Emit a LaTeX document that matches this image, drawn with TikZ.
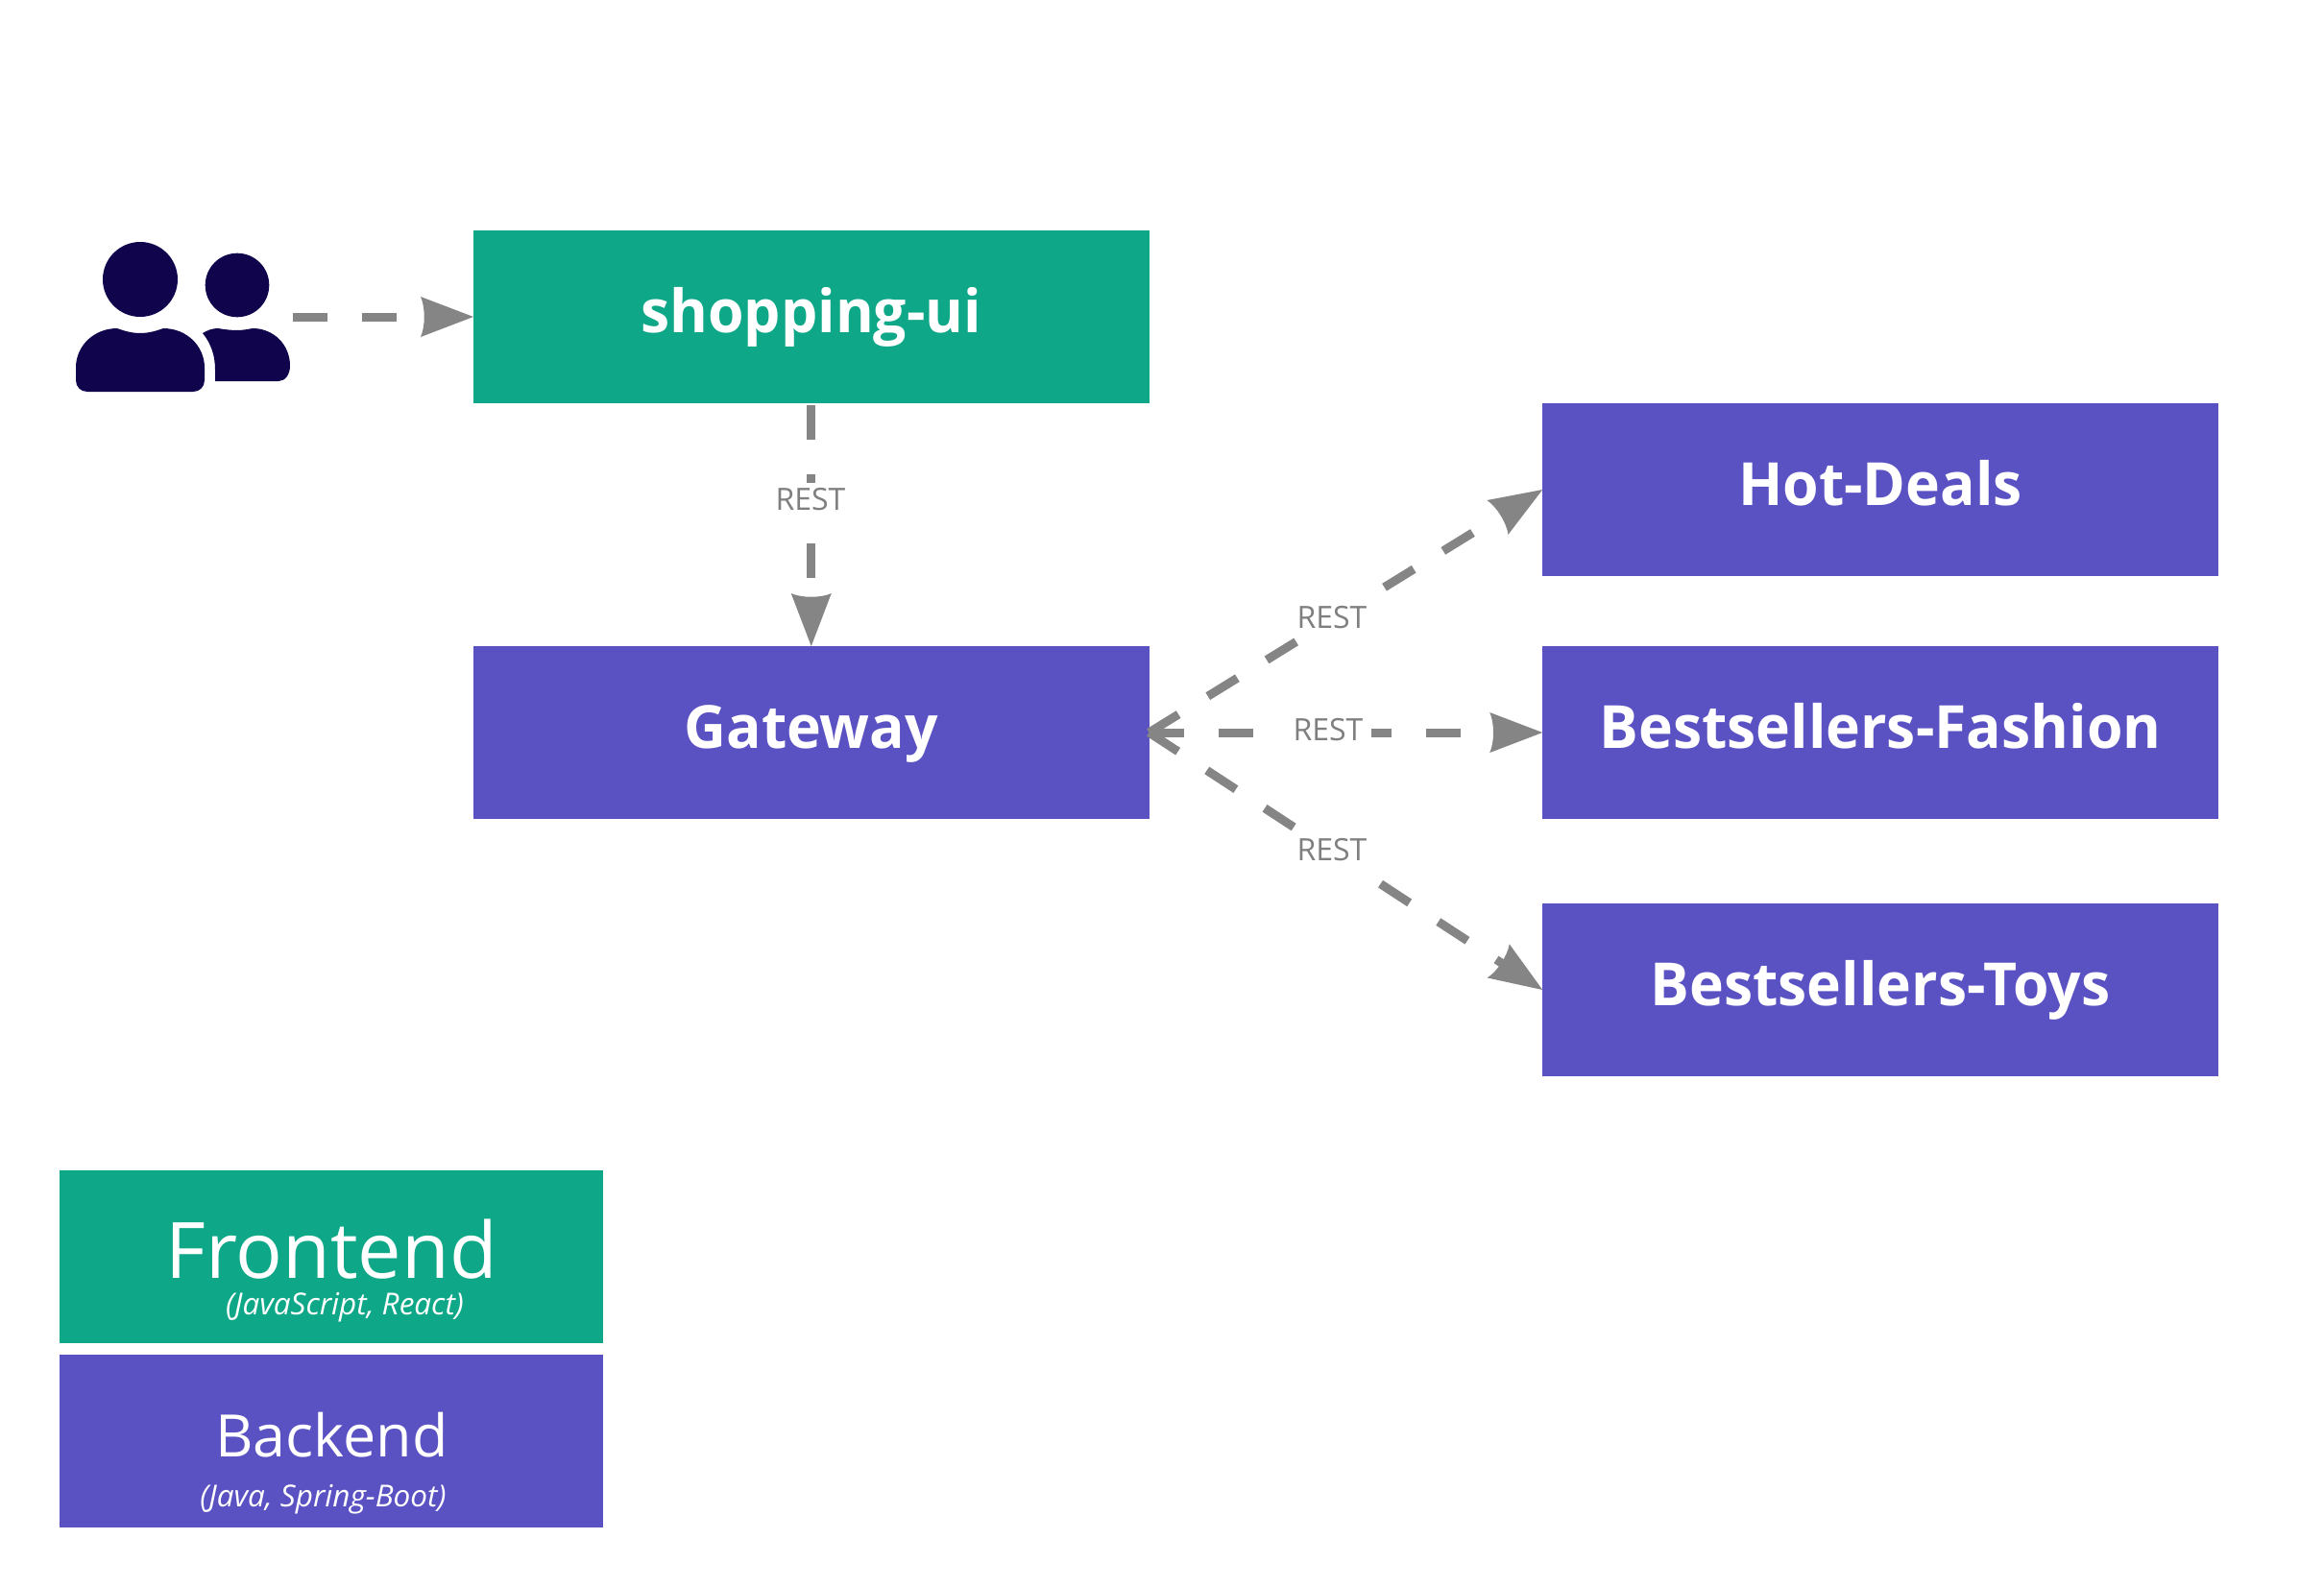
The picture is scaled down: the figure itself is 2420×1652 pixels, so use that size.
\documentclass[tikz,border=0pt]{standalone}
\usepackage{fontspec}
\setmainfont[BoldFeatures={FakeStretch=0.978,Kerning=Off}]{Open Sans}
\usetikzlibrary{arrows.meta}
\definecolor{front}{HTML}{0EA788}
\definecolor{back}{HTML}{5A51C3}
\definecolor{linegray}{HTML}{858585}
\definecolor{labelgray}{HTML}{7F7F7F}
\definecolor{iconblue}{HTML}{10054D}
\pgfdeclarearrow{
  name=HeadX,
  setup code={\pgfarrowssettipend{0pt}\pgfarrowssetlineend{-45pt}\pgfarrowssetbackend{-55pt}\pgfarrowssetvisualbackend{-50pt}},
  drawing code={
    \pgfsetfillcolor{linegray}
    \pgfpathmoveto{\pgfpoint{0pt}{0pt}}
    \pgfpathlineto{\pgfpoint{-55pt}{21pt}}
    \pgfpathcurveto{\pgfpoint{-50pt}{10pt}}{\pgfpoint{-50pt}{-10pt}}{\pgfpoint{-55pt}{-21pt}}
    \pgfpathclose
    \pgfusepathqfill
  }
}
\tikzset{
  x=1pt,y=-1pt,
  boxbase/.style={rectangle,inner sep=0pt,outer sep=0pt,minimum width=703.5pt,minimum height=180pt,text=white,font=\bfseries\fontsize{62}{70}\selectfont,text height=32pt,text depth=0pt},
  frontbox/.style={boxbase,fill=front},
  backbox/.style={boxbase,fill=back},
  legendbox/.style={rectangle,inner sep=0pt,outer sep=0pt,minimum width=566pt,minimum height=180pt},
  legendtext/.style={text=white,inner sep=0pt},
  flow/.style={draw=linegray,line width=9pt,dash pattern=on 36pt off 36pt,-{HeadX}},
  restlabel/.style={fill=white,text=labelgray,font=\fontsize{32}{36}\selectfont,inner sep=0pt,minimum width=90pt,minimum height=34pt},
  person/.style={fill=iconblue,draw=none}
}
\begin{document}
\begin{tikzpicture}
\useasboundingbox[fill=white] (0,0) rectangle (2420,1652);

\node[frontbox] (shop) at (844.75,330) {shopping-ui};
\node[backbox] (gateway) at (844.75,763) {Gateway};
\node[backbox] (hot) at (1958,510) {Hot-Deals};
\node[backbox] (fashion) at (1958,763) {Bestsellers-Fashion};
\node[backbox] (toys) at (1958,1031) {Bestsellers-Toys};

\node[legendbox,fill=front] (legfront) at (345,1309) {};
\node[legendbox,fill=back] (legback) at (345,1501) {};
\node[legendtext,font=\fontsize{81}{90}\selectfont,anchor=base] (fronttitle) at (345,1331) {Frontend};
\node[legendtext,font=\itshape\fontsize{31.5}{36}\selectfont,anchor=base] (frontsub) at (359,1369) {(JavaScript, React)};
\node[legendtext,font=\fontsize{61}{70}\selectfont,anchor=base] (backtitle) at (345.5,1517) {Backend};
\node[legendtext,font=\itshape\fontsize{31.5}{36}\selectfont,anchor=base] (backsub) at (336.5,1569) {(Java, Spring-Boot)};

% users icon
\fill[person] (146,291) circle[radius=39];
\fill[person] (247,297) circle[radius=33.3];
\fill[person] (91,408) .. controls (84,408) and (79,403) .. (79,396)
  -- (79,383) .. controls (79,360) and (98,342) .. (122,342)
  .. controls (130,345) and (138,347) .. (146,347)
  .. controls (154,347) and (162,345) .. (170,342)
  .. controls (194,342) and (213,360) .. (213,383)
  -- (213,396) .. controls (213,403) and (208,408) .. (201,408) -- cycle;
\fill[person] (211,347) .. controls (216,344) and (221,342) .. (227,342)
  .. controls (233,343) and (240,344) .. (247,344)
  .. controls (252,344) and (258,343) .. (263,342)
  .. controls (285,342) and (302,359) .. (302,381)
  .. controls (302,390) and (297,397) .. (290,397)
  -- (224,397) -- (224,385) .. controls (224,371) and (220,358) .. (211,347) -- cycle;
\coordinate (usersout) at (305,330);

\draw[flow] (usersout) -- (shop.west);
\draw[flow,dash phase=70pt] (shop.south) -- (gateway.north);
\draw[flow] (gateway.east) -- (hot.west);
\draw[flow] (gateway.east) -- (fashion.west);
\draw[flow] (gateway.east) -- (toys.west);

\node[restlabel] (rest1) at (844,520) {REST};
\node[restlabel] (rest2) at (1387,643) {REST};
\node[restlabel] (rest3) at (1383,760) {REST};
\node[restlabel,minimum height=40pt] (rest4) at (1387,885) {REST};
\end{tikzpicture}
\end{document}
